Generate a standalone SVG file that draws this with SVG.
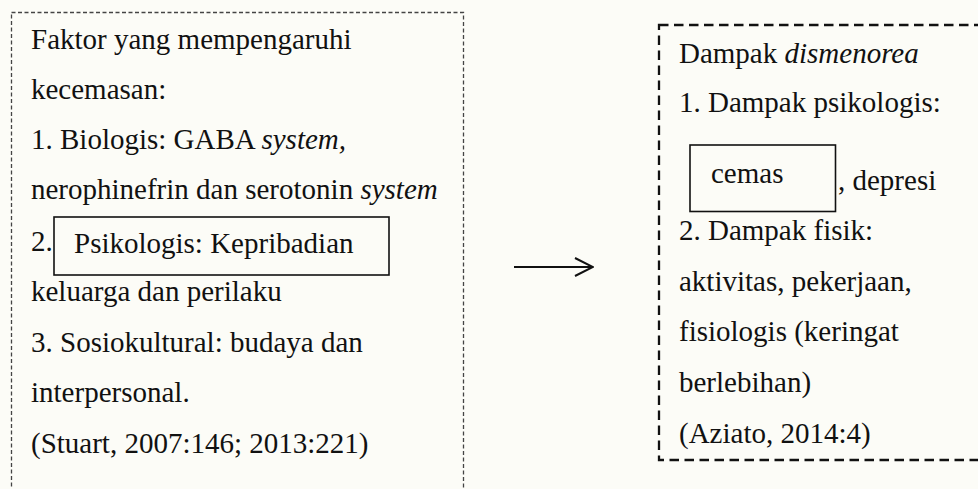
<svg xmlns="http://www.w3.org/2000/svg" width="978" height="489" viewBox="0 0 978 489">
<style>
.t{font-family:"Liberation Serif","Times New Roman",serif;font-size:29px;fill:#111}
.i{font-style:italic}
.solid{fill:none;stroke:#111;stroke-width:1.6}
</style>
<defs>
<marker id="arr" viewBox="0 0 20 20" refX="19" refY="10" markerWidth="20" markerHeight="20" markerUnits="userSpaceOnUse" orient="auto">
<path d="M1,1 L19,10 L1,19" fill="none" stroke="#111" stroke-width="2"/>
</marker>
</defs>
<rect x="0" y="0" width="978" height="489" fill="#fcfcf7"/>
<g id="factors">
<rect x="11.5" y="12.5" width="452" height="500" fill="none" stroke="#444" stroke-width="1.3" stroke-dasharray="4 2.5"/>
<text class="t" x="31" y="49">Faktor yang mempengaruhi</text>
<text class="t" x="31" y="99">kecemasan:</text>
<text class="t" x="31" y="149">1. Biologis: GABA <tspan class="i">system,</tspan></text>
<text class="t" x="31" y="199">nerophinefrin dan serotonin <tspan class="i">system</tspan></text>
<text class="t" x="31" y="251">2.</text>
<text class="t" x="31" y="301">keluarga dan perilaku</text>
<text class="t" x="31" y="352">3. Sosiokultural: budaya dan</text>
<text class="t" x="31" y="402">interpersonal.</text>
<text class="t" x="31" y="453">(Stuart, 2007:146; 2013:221)</text>
</g>
<g id="psikologis">
<rect class="solid" x="54" y="217" width="335" height="58" fill="#fcfcf7"/>
<text class="t" x="74" y="253">Psikologis: Kepribadian</text>
</g>
<g id="dampak">
<rect x="659" y="25" width="340" height="435" fill="none" stroke="#111" stroke-width="2.3" stroke-dasharray="9.5 5.5"/>
<text class="t" x="679" y="63">Dampak <tspan class="i">dismenorea</tspan></text>
<text class="t" x="679" y="112">1. Dampak psikologis:</text>
<text class="t" x="838" y="190">, depresi</text>
<text class="t" x="679" y="240">2. Dampak fisik:</text>
<text class="t" x="679" y="291">aktivitas, pekerjaan,</text>
<text class="t" x="679" y="341">fisiologis (keringat</text>
<text class="t" x="679" y="392">berlebihan)</text>
<text class="t" x="679" y="443">(Aziato, 2014:4)</text>
</g>
<g id="cemas">
<rect class="solid" x="690" y="145" width="145.5" height="66.5" fill="#fcfcf7"/>
<text class="t" x="711" y="183">cemas</text>
</g>
<g id="connectors">
<line x1="514" y1="267" x2="593" y2="267" stroke="#111" stroke-width="2" marker-end="url(#arr)"/>
</g>
</svg>
